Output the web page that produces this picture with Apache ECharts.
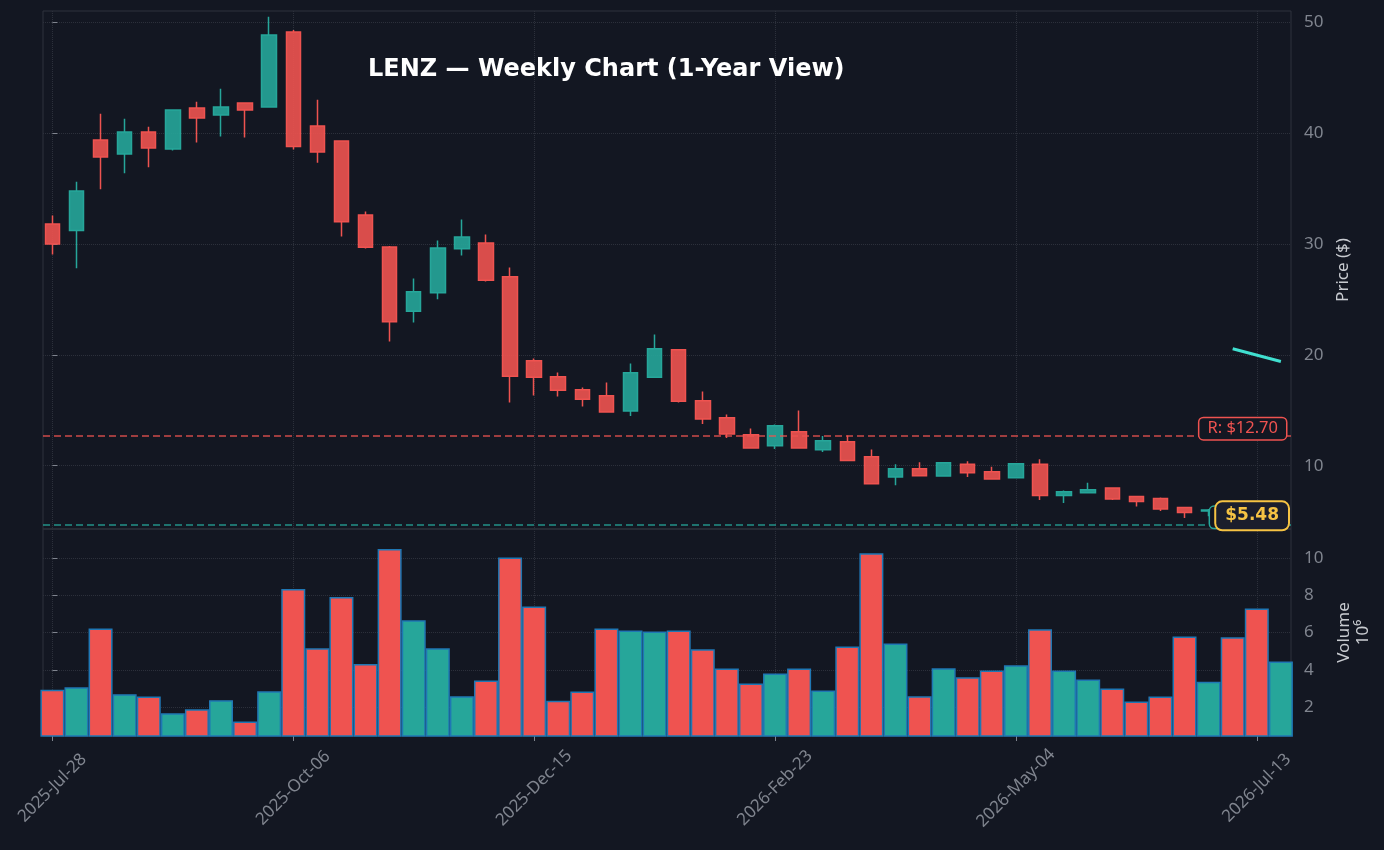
<!DOCTYPE html>
<html>
<head>
<meta charset="utf-8">
<title>LENZ weekly</title>
<script src="https://cdn.jsdelivr.net/npm/echarts@6/dist/echarts.min.js"></script>
<style>
  html, body { margin: 0; padding: 0; background: #131722; }
  #chart { width: 1384px; height: 850px; }
</style>
</head>
<body>
<div id="chart"></div>
<script>
// weekly bars, one entry per week
const dates = [
  "2025-Jul-28", "2025-Aug-04", "2025-Aug-11", "2025-Aug-18", "2025-Aug-25",
  "2025-Sep-01", "2025-Sep-08", "2025-Sep-15", "2025-Sep-22", "2025-Sep-29",
  "2025-Oct-06", "2025-Oct-13", "2025-Oct-20", "2025-Oct-27", "2025-Nov-03",
  "2025-Nov-10", "2025-Nov-17", "2025-Nov-24", "2025-Dec-01", "2025-Dec-08",
  "2025-Dec-15", "2025-Dec-22", "2025-Dec-29", "2026-Jan-05", "2026-Jan-12",
  "2026-Jan-19", "2026-Jan-26", "2026-Feb-02", "2026-Feb-09", "2026-Feb-16",
  "2026-Feb-23", "2026-Mar-02", "2026-Mar-09", "2026-Mar-16", "2026-Mar-23",
  "2026-Mar-30", "2026-Apr-06", "2026-Apr-13", "2026-Apr-20", "2026-Apr-27",
  "2026-May-04", "2026-May-11", "2026-May-18", "2026-May-25", "2026-Jun-01",
  "2026-Jun-08", "2026-Jun-15", "2026-Jun-22", "2026-Jun-29", "2026-Jul-06",
  "2026-Jul-13", "2026-Jul-20"
];
const opens = [
  31.80, 31.20, 39.37, 38.11, 40.09, 38.56, 42.25, 41.62, 42.70, 42.34,
  49.10, 40.63, 39.28, 32.61, 29.73, 23.93, 25.59, 29.55, 30.09, 27.03,
  19.46, 18.02, 16.85, 16.31, 14.92, 17.98, 20.45, 15.86, 14.32, 12.79,
  11.80, 13.06, 11.44, 12.16, 10.81, 8.97, 9.73, 9.06, 10.14, 9.46,
  8.92, 10.14, 7.30, 7.57, 7.98, 7.21, 7.03, 6.22, 5.92, 5.95,
  5.72, 5.40
];
const highs = [
  32.55, 35.61, 41.74, 41.29, 40.57, 42.10, 42.82, 43.99, 42.73, 50.48,
  49.28, 43.00, 39.30, 32.91, 29.80, 26.87, 30.30, 32.19, 30.84, 27.86,
  19.67, 18.41, 17.05, 17.50, 19.22, 21.83, 20.47, 16.69, 14.62, 13.36,
  13.72, 14.98, 12.67, 12.73, 11.47, 10.12, 10.30, 10.29, 10.39, 9.91,
  10.20, 10.57, 7.77, 8.47, 8.05, 7.22, 7.14, 6.24, 6.09, 6.10,
  5.90, 5.70
];
const lows = [
  29.04, 27.80, 34.92, 36.36, 36.90, 38.43, 39.15, 39.69, 39.60, 42.31,
  38.52, 37.32, 30.66, 29.58, 21.19, 22.91, 25.00, 28.95, 26.60, 15.70,
  16.33, 16.24, 15.34, 14.80, 14.47, 17.95, 15.70, 13.75, 12.49, 11.55,
  11.50, 11.55, 11.23, 10.45, 8.35, 8.23, 9.08, 9.04, 8.97, 8.77,
  8.90, 6.90, 6.63, 7.55, 6.90, 6.33, 5.91, 5.28, 5.43, 5.55,
  5.30, 5.25
];
const closes = [
  30.00, 34.77, 37.84, 40.09, 38.65, 42.07, 41.35, 42.34, 42.07, 48.83,
  38.79, 38.29, 32.00, 29.69, 22.97, 25.68, 29.64, 30.63, 26.72, 18.07,
  17.98, 16.81, 16.00, 14.83, 18.38, 20.54, 15.82, 14.20, 12.85, 11.59,
  13.60, 11.59, 12.25, 10.47, 8.38, 9.73, 9.10, 10.27, 9.37, 8.79,
  10.18, 7.30, 7.66, 7.84, 6.99, 6.76, 6.09, 5.77, 6.00, 5.70,
  5.45, 5.48
];
// volume in millions of shares
const volumes = [
  2.94, 3.07, 6.21, 2.70, 2.57, 1.68, 1.89, 2.38, 1.23, 2.86,
  8.33, 5.16, 7.90, 4.31, 10.47, 6.66, 5.16, 2.59, 3.43, 10.02,
  7.39, 2.35, 2.84, 6.21, 6.11, 6.05, 6.11, 5.11, 4.07, 3.27,
  3.80, 4.07, 2.89, 5.25, 10.24, 5.41, 2.59, 4.09, 3.61, 3.96,
  4.25, 6.18, 3.96, 3.48, 3.00, 2.30, 2.57, 5.79, 3.37, 5.75,
  7.29, 4.45
];

const resistance = 12.70;
const support = 4.71;
const trendX = [49, 51];
const trendY = [20.54, 19.40];

const priceTicks = [10, 20, 30, 40, 50];
const volumeTicks = [2, 4, 6, 8, 10];
const dateTicks = [0, 10, 20, 30, 40, 50];

const UP = "#26a69a";
const DOWN = "#ef5350";
const BG = "#131722";
const GRIDC = "#2c303b";
const TICKC = "#80858f";
const NAMEC = "#c8cbd0";

const xMin = -0.39, xMax = 51.42;

const candleData = dates.map((d, i) => [i, opens[i], closes[i], lows[i], highs[i]]);
const volData = dates.map((d, i) => ({
  value: [i, volumes[i]],
  itemStyle: { color: closes[i] >= opens[i] ? UP : DOWN }
}));
const trendData = trendX.map((x, i) => [x, trendY[i]]);
const lastPrice = closes[closes.length - 1];

const chart = echarts.init(document.getElementById("chart"));

const xBase = {
  type: "value",
  min: xMin,
  max: xMax,
  axisLine: { show: false },
  splitLine: { show: true, lineStyle: { color: GRIDC, type: "dotted", width: 1 } },
};

const levelLabel = (txt, col) => ({
  show: true, position: "left", distance: 5, offset: [0, -7],
  formatter: txt,
  color: col, fontSize: 16.5, fontFamily: "Noto Sans",
  backgroundColor: BG, borderColor: col, borderWidth: 1.5, borderRadius: 4, padding: [2, 8],
});

const option = {
  backgroundColor: BG,
  animation: false,
  title: {
    text: "LENZ \u2014 Weekly Chart (1-Year View)",
    left: 363,
    top: 53,
    textStyle: { color: "#ffffff", fontSize: 24, fontWeight: "bold", fontFamily: "DejaVu Sans" },
  },
  grid: [
    { left: 43, top: 11, width: 1248, height: 518, show: true, borderColor: "#2e323d", borderWidth: 1 },
    { left: 43, top: 529, width: 1248, height: 207, show: true, borderColor: "#2e323d", borderWidth: 1 },
  ],
  xAxis: [
    Object.assign({}, xBase, {
      gridIndex: 0,
      axisTick: { show: false, customValues: dateTicks },
      axisLabel: { show: false, customValues: dateTicks },
    }),
    Object.assign({}, xBase, {
      gridIndex: 1,
      axisTick: { show: true, length: 5, customValues: dateTicks, lineStyle: { color: TICKC } },
      axisLabel: {
        customValues: dateTicks,
        formatter: (v) => dates[Math.round(v)] || "",
        rotate: 45,
        align: "center",
        verticalAlign: "middle",
        margin: 52,
        color: TICKC,
        fontSize: 17,
        fontFamily: "Noto Sans",
      },
    }),
  ],
  yAxis: [
    {
      type: "value",
      gridIndex: 0,
      position: "right",
      min: 4.29,
      max: 51,
      name: "Price ($)",
      nameLocation: "middle",
      nameRotate: 90,
      nameGap: 31,
      nameTextStyle: { color: NAMEC, fontSize: 17, fontFamily: "Noto Sans" },
      axisLine: { show: false },
      axisTick: { show: true, length: 5, customValues: priceTicks, lineStyle: { color: TICKC } },
      axisLabel: { customValues: priceTicks, color: TICKC, fontSize: 17, margin: 13, fontFamily: "Noto Sans" },
      splitLine: { show: true, lineStyle: { color: GRIDC, type: "dotted", width: 1 } },
    },
    {
      type: "value",
      gridIndex: 1,
      position: "right",
      min: 0.46,
      max: 11.54,
      name: "Volume\n10\u2076",
      nameLocation: "middle",
      nameRotate: 90,
      nameGap: 31,
      nameTextStyle: { color: NAMEC, fontSize: 17, lineHeight: 19, fontFamily: "Noto Sans" },
      axisLine: { show: false },
      axisTick: { show: true, length: 5, customValues: volumeTicks, lineStyle: { color: TICKC } },
      axisLabel: { customValues: volumeTicks, color: TICKC, fontSize: 17, margin: 13, fontFamily: "Noto Sans" },
      splitLine: { show: true, lineStyle: { color: GRIDC, type: "dotted", width: 1 } },
    },
  ],
  series: [
    {
      name: "LENZ",
      type: "candlestick",
      xAxisIndex: 0,
      yAxisIndex: 0,
      data: candleData,
      encode: { x: 0, y: [1, 2, 3, 4] },
      barWidth: 15,
      itemStyle: {
        color: "rgba(38,166,154,0.9)",
        color0: "rgba(239,83,80,0.9)",
        borderColor: UP,
        borderColor0: DOWN,
        borderWidth: 1.5,
      },
      markLine: {
        symbol: "none",
        silent: true,
        label: { show: false },
        data: [
          { yAxis: resistance, lineStyle: { color: DOWN, type: [7, 4], width: 1.5, opacity: 0.85 } },
          { yAxis: support, lineStyle: { color: UP, type: [7, 4], width: 1.5, opacity: 0.85 } },
        ],
      },
      markPoint: {
        symbol: "circle",
        symbolSize: 0,
        silent: true,
        data: [
          { coord: [xMax, support], label: levelLabel("S: $" + support.toFixed(2), UP) },
          { coord: [xMax, resistance], label: levelLabel("R: $" + resistance.toFixed(2), DOWN) },
        ],
      },
    },
    {
      name: "trend",
      type: "line",
      xAxisIndex: 0,
      yAxisIndex: 0,
      data: trendData,
      showSymbol: false,
      z: 5,
      lineStyle: { color: "#40e0d0", width: 3 },
      markPoint: {
        symbol: "circle",
        symbolSize: 0,
        silent: true,
        data: [
          {
            coord: [xMax, lastPrice],
            label: {
              show: true, position: "left", distance: 3,
              formatter: "$" + lastPrice.toFixed(2),
              color: "#f6c343", fontSize: 17, fontWeight: "bold", fontFamily: "DejaVu Sans",
              backgroundColor: "#1b1e2c", borderColor: "#f6c343", borderWidth: 2, borderRadius: 6, padding: [5, 9],
            },
          },
        ],
      },
    },
    {
      name: "Volume",
      type: "bar",
      xAxisIndex: 1,
      yAxisIndex: 1,
      data: volData,
      barWidth: 24,
      itemStyle: { borderColor: "#1f77b4", borderWidth: 1.5 },
    },
  ],
};

chart.setOption(option);
</script>
</body>
</html>
